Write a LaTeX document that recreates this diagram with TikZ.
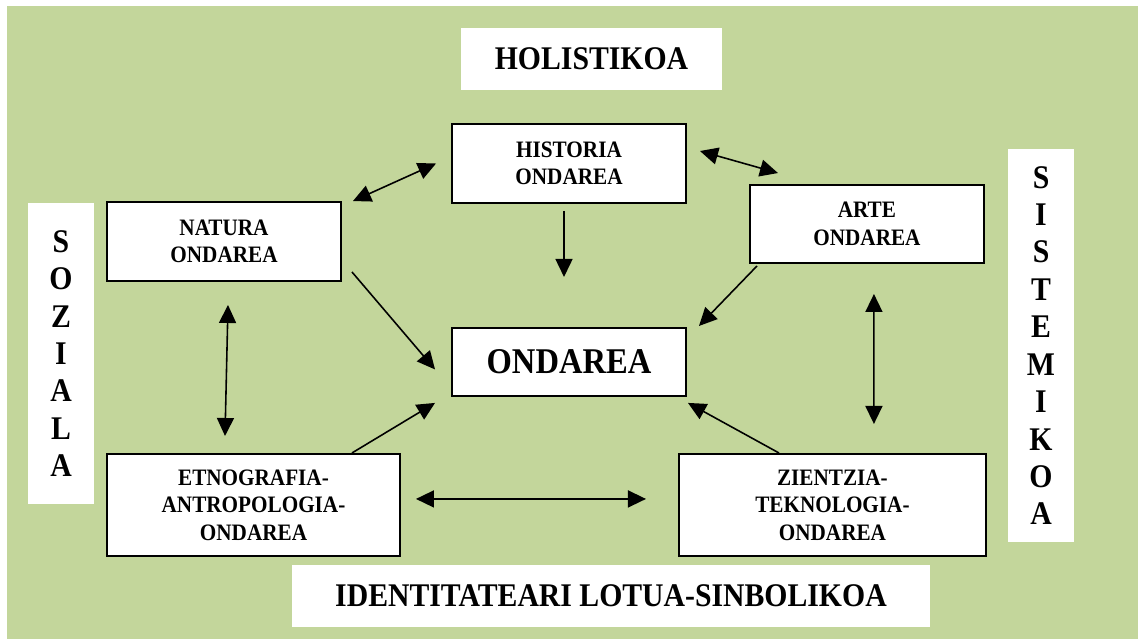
\documentclass[tikz,border=0pt]{standalone}
\usepackage{fontspec}
\setmainfont{Liberation Serif}[FakeStretch=0.9]
\usepackage{tikz}
\usetikzlibrary{positioning, arrows.meta, calc}
\definecolor{olivebg}{RGB}{195,214,155}
\tikzset{
	>={Triangle[length=3.6mm,width=3.4mm]},
	box/.style={draw, line width=1.1pt, fill=white, inner sep=0pt, align=center,
		minimum width=4.68cm, minimum height=1.58cm,
		font=\fontsize{13.4}{15.7}\selectfont\bfseries},
	tag/.style={fill=white, inner sep=0pt, align=center,
		font=\fontsize{18.8}{21.3}\selectfont\bfseries},
	link/.style={line width=0.9pt},
}
\begin{document}
\begin{tikzpicture}
			
			\useasboundingbox (0,0) rectangle (22.76,-12.78);
			\fill[olivebg] (0.14,-0.12) rectangle (22.76,-12.78);
			
			\node[tag, minimum width=5.22cm, minimum height=1.24cm] (HOLISTIKOA) at (11.83,-1.18) {HOLISTIKOA};
			\node[tag, minimum width=12.76cm, minimum height=1.24cm] (IDENTITATEA) at (12.22,-11.92) {IDENTITATEARI LOTUA-SINBOLIKOA};
			\node[tag, minimum width=1.32cm, minimum height=6.02cm] (SOZIALA) at (1.22,-7.07) {S\\O\\Z\\I\\A\\L\\A};
			\node[tag, minimum width=1.32cm, minimum height=7.86cm] (SISTEMIKOA) at (20.82,-6.91) {S\\I\\S\\T\\E\\M\\I\\K\\O\\A};
			
			\node[box] (HISTORIA) at (11.38,-3.27) {HISTORIA\\ONDAREA};
			\node[box] (NATURA) at (4.48,-4.83) {NATURA\\ONDAREA};
			\node[box, minimum height=1.56cm, right=1.28cm of HISTORIA, yshift=-1.21cm, xshift=-0.04cm] (ARTE) {ARTE\\ONDAREA};
			\node[box, minimum height=1.36cm, below=2.46cm of HISTORIA, font=\fontsize{20.6}{24}\selectfont\bfseries] (ONDAREA) {ONDAREA};
			\node[box, minimum width=5.86cm, minimum height=2.04cm, below=3.42cm of NATURA, xshift=0.59cm] (ETNOGRAFIA) {ETNOGRAFIA-\\ANTROPOLOGIA-\\ONDAREA};
			\node[box, minimum width=6.14cm, minimum height=2.04cm, right=5.54cm of ETNOGRAFIA] (ZIENTZIA) {ZIENTZIA-\\TEKNOLOGIA-\\ONDAREA};
			
			\draw[link, <->] ([xshift=0.22cm]NATURA.north east) -- ([xshift=-0.3cm]HISTORIA.west);
			\draw[link, <->] ([shift={(0.26cm,0.25cm)}]HISTORIA.east) -- ([shift={(0.58cm,0.22cm)}]ARTE.north west);
			\draw[link, ->] ([shift={(-0.1cm,-0.14cm)}]HISTORIA.south) -- ([shift={(-0.1cm,1cm)}]ONDAREA.north);
			\draw[link, ->] ([shift={(0.2cm,0.2cm)}]NATURA.south east) -- ([shift={(-0.32cm,-0.15cm)}]ONDAREA.west);
			\draw[link, ->] ([shift={(0.16cm,-0.04cm)}]ARTE.south west) -- ([shift={(0.24cm,0.02cm)}]ONDAREA.north east);
			\draw[link, ->] ([xshift=-0.98cm]ETNOGRAFIA.north east) -- ([shift={(-0.32cm,-0.12cm)}]ONDAREA.south west);
			\draw[link, ->] ([xshift=2.02cm]ZIENTZIA.north west) -- ([shift={(0.02cm,-0.12cm)}]ONDAREA.south east);
			\draw[link, <->] ([shift={(0.08cm,-0.46cm)}]NATURA.south) -- ([shift={(-0.57cm,0.34cm)}]ETNOGRAFIA.north);
			\draw[link, <->] ([shift={(0.14cm,-0.6cm)}]ARTE.south) -- ([shift={(0.83cm,0.58cm)}]ZIENTZIA.north);
			\draw[link, <->] ([shift={(0.3cm,0.12cm)}]ETNOGRAFIA.east) -- ([shift={(-0.64cm,0.12cm)}]ZIENTZIA.west);
			
\end{tikzpicture}
\end{document}
